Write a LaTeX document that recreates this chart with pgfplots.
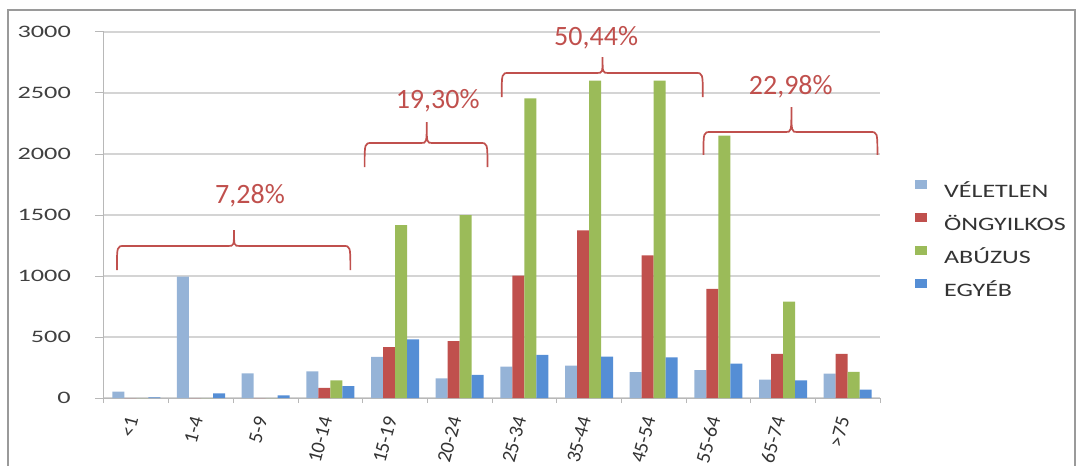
\documentclass[border=0pt]{standalone}
\usepackage{fontspec}
\setmainfont{Carlito}
\usepackage{graphicx}
\usepackage{pgfplots}
\pgfplotsset{compat=1.18}
\usepackage{pgfplotstable}
\definecolor{vel}{HTML}{95B3D7}
\definecolor{ong}{HTML}{C0504D}
\definecolor{abu}{HTML}{9BBB59}
\definecolor{egy}{HTML}{558ED5}
\definecolor{pct}{HTML}{C0504D}
\definecolor{gridc}{HTML}{D4D4D4}
\definecolor{axc}{HTML}{B8B8B8}
\definecolor{framec}{HTML}{9A9A9A}

\pgfplotstableread{
x  vel  ong   abu   egy
0  52   0     0     6
1  995  0     0     38
2  202  0     0     22
3  219  82    145   98
4  337  418   1418  481
5  160  467   1500  190
6  258  1003  2455  353
7  266  1373  2602  339
8  212  1169  2602  334
9  228  894   2151  281
10 150  362   789   144
11 199  362   215   68
}\data

\begin{document}
\begin{tikzpicture}
\path[use as bounding box] (-104bp,-68bp) rectangle (978bp,398bp);
\draw[framec, line width=1.5bp] (-96bp,-80bp) -- (-96bp,388bp) -- (971bp,388bp) -- (971bp,-80bp);
\begin{axis}[
  at={(0,0)}, anchor=south west,
  scale only axis, width=776bp, height=366bp,
  xmin=-0.5, xmax=11.5, ymin=0, ymax=3000,
  clip=false,
  ybar=0pt, bar width=12bp,
  axis x line*=bottom, axis y line*=left,
  axis line style={axc, line width=1bp},
  xtick={0,...,11},
  xticklabels={<1,1-4,5-9,10-14,15-19,20-24,25-34,35-44,45-54,55-64,65-74,>75},
  major x tick style={draw=none},
  minor xtick={-0.5,0.5,...,11.5},
  minor x tick style={draw=axc, line width=1bp},
  minor tick length=5bp, major tick length=9bp,
  tick align=outside,
  ytick={0,500,...,3000},
  y tick style={draw=axc, line width=1bp},
  ymajorgrids, grid style={gridc, line width=1.3bp},
  xticklabel style={font=\fontsize{20bp}{22bp}\selectfont, text=black!80, yshift=-10bp, xshift=-4bp, rotate=75, anchor=east, inner sep=0pt},
  yticklabel style={font=\fontsize{17.5bp}{20bp}\selectfont, text=black!75, anchor=east, inner sep=0pt, xshift=-24bp},
  yticklabel={\scalebox{1.5}[1]{\pgfmathprintnumber[assume math mode=true,1000 sep={}]{\tick}}},
  legend style={at={(axis description cs:1.045,0.596)}, anchor=north west, draw=none, fill=none,
    inner sep=0pt, row sep=14bp, font=\fontsize{19bp}{21bp}\selectfont, text=black!80,
    nodes={inner sep=0pt},
    /tikz/every odd column/.append style={column sep=17bp}},
  legend cell align=left,
  legend image code/.code={\fill[#1] (0bp,1.5bp) rectangle (12bp,10.5bp);},
]
\addplot[fill=vel, draw=none] table[x=x, y=vel] {\data};
\addplot[fill=ong, draw=none] table[x=x, y=ong] {\data};
\addplot[fill=abu, draw=none] table[x=x, y=abu] {\data};
\addplot[fill=egy, draw=none] table[x=x, y=egy] {\data};
\addlegendentry{\scalebox{1.37}[1]{VÉLETLEN}}
\addlegendentry{\scalebox{1.37}[1]{ÖNGYILKOS}}
\addlegendentry{\scalebox{1.37}[1]{ABÚZUS}}
\addlegendentry{\scalebox{1.37}[1]{EGYÉB}}

% braces
\draw[pct, line width=1.7bp] (-0.30,1049) .. controls (-0.30,1246) .. (-0.19,1246) -- (1.42,1246) .. controls (1.51,1246) .. (1.51,1377) .. controls (1.51,1246) .. (1.60,1246) -- (3.20,1246) .. controls (3.31,1246) .. (3.31,1049);
\draw[pct, line width=1.7bp] (3.53,1893) .. controls (3.53,2090) .. (3.64,2090) -- (4.40,2090) .. controls (4.49,2090) .. (4.49,2262) .. controls (4.49,2090) .. (4.58,2090) -- (5.32,2090) .. controls (5.43,2090) .. (5.43,1893);
\draw[pct, line width=1.7bp] (5.65,2467) .. controls (5.65,2664) .. (5.76,2664) -- (7.12,2664) .. controls (7.21,2664) .. (7.21,2795) .. controls (7.21,2664) .. (7.30,2664) -- (8.65,2664) .. controls (8.76,2664) .. (8.76,2467);
\draw[pct, line width=1.7bp] (8.77,1992) .. controls (8.77,2180) .. (8.88,2180) -- (10.04,2180) .. controls (10.13,2180) .. (10.13,2385) .. controls (10.13,2180) .. (10.22,2180) -- (11.35,2180) .. controls (11.46,2180) .. (11.46,1992);
\node[pct, anchor=base, font=\fontsize{28bp}{30bp}\selectfont] at (axis cs:1.757,1598) {7,28\%};
\node[pct, anchor=base, font=\fontsize{28bp}{30bp}\selectfont] at (axis cs:4.66,2377) {19,30\%};
\node[pct, anchor=base, font=\fontsize{28bp}{30bp}\selectfont] at (axis cs:7.11,2893) {50,44\%};
\node[pct, anchor=base, font=\fontsize{28bp}{30bp}\selectfont] at (axis cs:10.12,2484) {22,98\%};
\end{axis}
\end{tikzpicture}
\end{document}
